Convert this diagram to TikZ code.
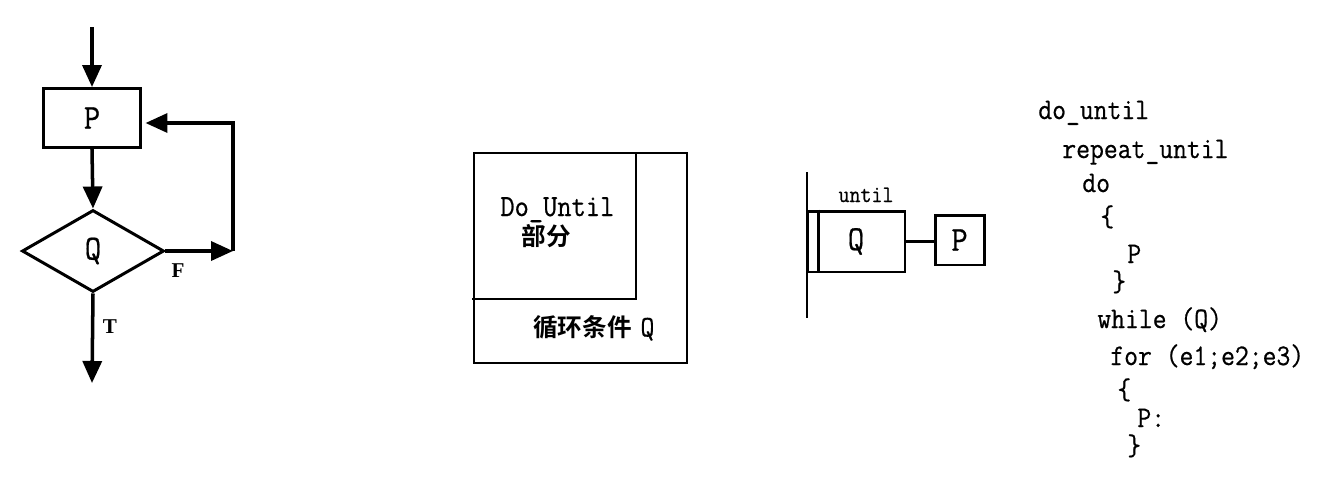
\documentclass[tikz,border=0pt]{standalone}
\usepackage{fontspec}
\newfontfamily\codefont[FakeStretch=0.9,FakeBold=0.6]{Latin Modern Mono}
\newfontfamily\flagfont{Liberation Serif}
\newfontfamily\cjkfont[BoldFont={Noto Sans CJK SC Bold}]{Noto Sans CJK SC}
\usetikzlibrary{arrows.meta,shapes.geometric,positioning}
\tikzset{
  flowbase/.style={line cap=butt, line join=miter},
  flowline/.style={draw,line width=2pt},
  flowarrow/.style={draw,line width=2pt,-{Triangle[length=4.4mm,width=3.8mm]}},
  procbox/.style={draw,line width=1.7pt,minimum width=1.94cm,minimum height=1.18cm,inner sep=0pt,font=\codefont\fontsize{20}{22}\selectfont},
  testbox/.style={draw,diamond,line width=1.7pt,minimum width=2.84cm,minimum height=1.64cm,inner sep=0pt,font=\codefont\fontsize{20}{22}\selectfont},
  flag/.style={font=\flagfont\bfseries\fontsize{12}{14}\selectfont},
  boxline/.style={draw,line width=1.4pt},
  bodytext/.style={font=\codefont\fontsize{17.5}{20}\selectfont},
  cjktext/.style={font=\cjkfont\bfseries\fontsize{14}{16}\selectfont},
  codeline/.style={anchor=base west,inner sep=0pt,font=\codefont\fontsize{17}{20}\selectfont}
}
\begin{document}
\begin{tikzpicture}[flowbase,x=0.02cm,y=-0.02cm]
\useasboundingbox (0,0) rectangle (1324,501);
% flow chart
\coordinate (entry) at (92,27);
\node[procbox] (p1) at (92,118) {P};
\node[testbox] (q1) at (93,251) {Q};
\coordinate (fturn) at (233,251);
\coordinate (backturn) at (233,123);
\coordinate (exit) at (92,383);
\draw[flowarrow] (entry) -- (p1.north);
\draw[flowarrow] (p1.south) -- (q1.north);
\draw[flowarrow] (q1.east) -- (fturn);
\draw[flowarrow] (fturn) -- (backturn) -- ([xshift=2pt]p1.east |- backturn);
\draw[flowarrow] (q1.south) -- (exit);
\node[flag] (flagf) at (178,271) {F};
\node[flag] (flagt) at (110,327) {T};
% box chart
\draw[boxline] (474,153) rectangle (687,363);
\draw[boxline] (472,299) -- (636,299) -- (636,153);
\node[bodytext,anchor=base west,inner sep=0pt] (dountil) at (500,216) {Do\_Until};
\node[cjktext] (part) at (546,236) {部分};
\node[anchor=west,inner sep=0pt] (cond) at (533,328) {\cjkfont\bfseries\fontsize{14}{16}\selectfont 循环条件\hspace{5pt}\codefont\mdseries\fontsize{17}{20}\selectfont Q};
% Jackson style
\coordinate (barTop) at (807,172);
\coordinate (barBot) at (807,318);
\draw[boxline] (barTop) -- (barBot);
\node[procbox,minimum width=1.96cm,minimum height=1.22cm] (qbox) at (856,241.5) {Q};
\draw[boxline] ([xshift=0.26cm]qbox.north west) -- ([xshift=0.26cm]qbox.south west);
\node[procbox,minimum width=0.98cm,minimum height=1.0cm] (pbox) at (959.5,240) {P};
\draw[flowline] (qbox.east) -- (qbox.east -| pbox.west);
\node[anchor=base,inner sep=0pt,font=\codefont\fontsize{13.5}{15}\selectfont] (untiltag) at (866,202) {until};
% code
\node[codeline] (c1) at (1038,119) {do\_until};
\node[codeline] (c2) at (1062,158) {repeat\_until};
\node[codeline] (c3) at (1082,192) {do};
\node[codeline] (c4) at (1100,226) {\{};
\node[codeline] (c5) at (1127,263) {P};
\node[codeline] (c6) at (1112,291) {\}};
\node[codeline] (c7) at (1097,328) {while (Q)};
\node[codeline] (c8) at (1110,365) {for (e1;e2;e3)};
\node[codeline] (c9) at (1117,399) {\{};
\node[codeline] (c10) at (1137,427) {P:};
\node[codeline] (c11) at (1127,455) {\}};
\end{tikzpicture}
\end{document}
